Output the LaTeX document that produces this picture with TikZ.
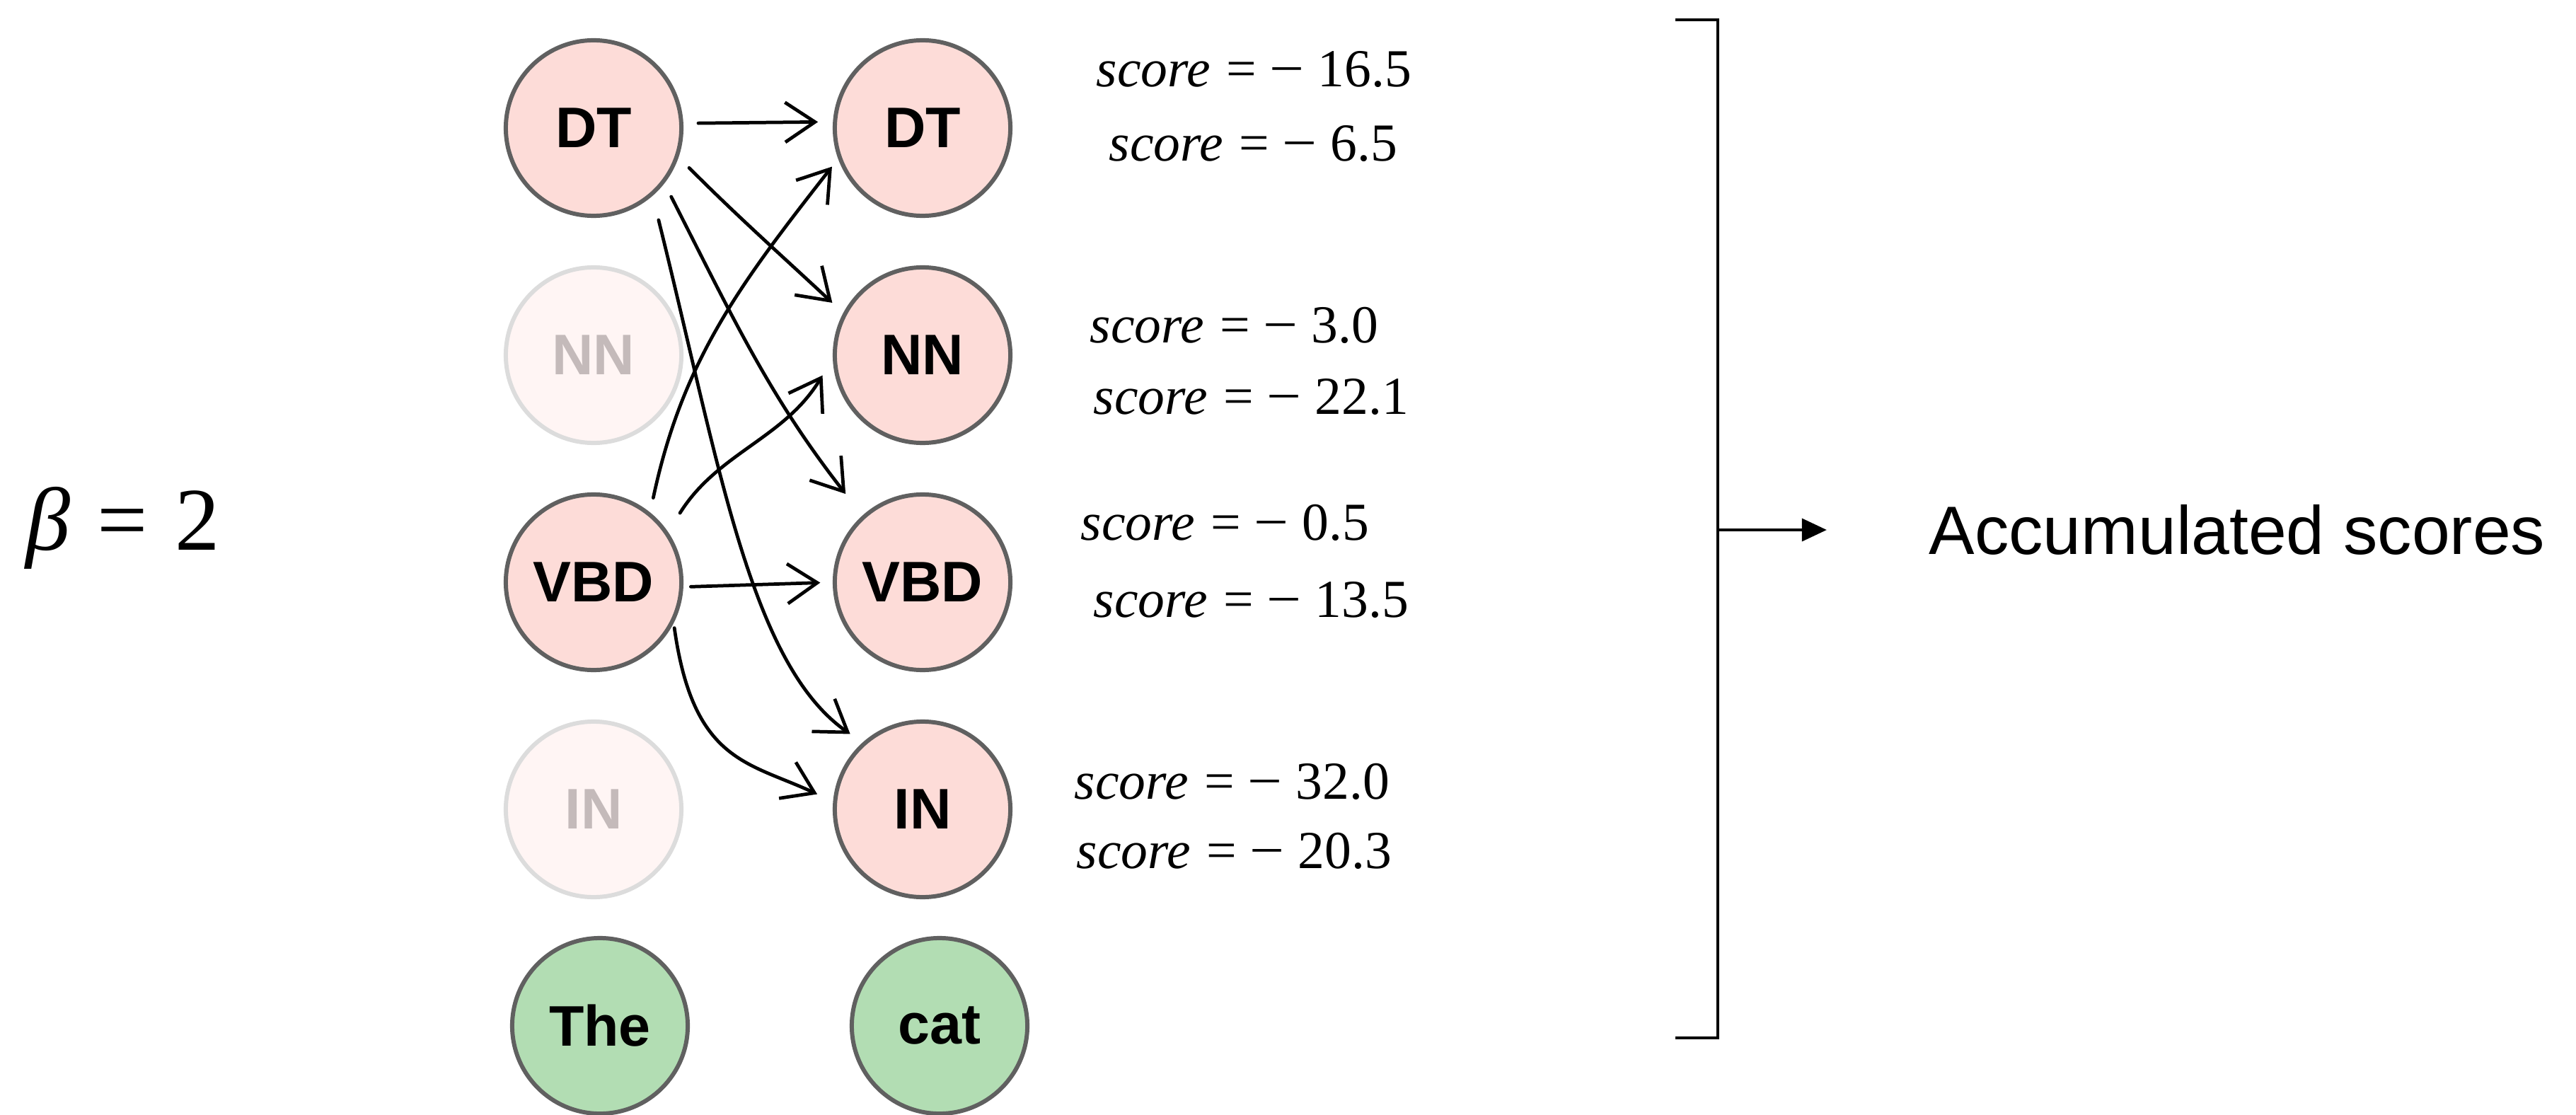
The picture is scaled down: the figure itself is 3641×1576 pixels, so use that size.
\documentclass[tikz,border=0pt]{standalone}
\usepackage{fontspec}
\setmainfont{Liberation Serif}
\newfontfamily\hv{Liberation Sans}
\usetikzlibrary{arrows.meta}
\definecolor{tagpink}{HTML}{FDDCD8}
\definecolor{fadepink}{HTML}{FFF5F4}
\definecolor{fadegray}{HTML}{DCDCDC}
\definecolor{fadetext}{HTML}{C4BABA}
\definecolor{edgegray}{HTML}{606060}
\definecolor{wordgreen}{HTML}{B2DDB3}
\newcommand{\scoreline}[1]{{\itshape score}\hspace{0.3em}=\hspace{0.25em}\scalebox{1.15}[1]{\char"2212}\hspace{0.25em}#1}

\begin{document}
\begin{tikzpicture}[x=0.01cm,y=-0.01cm,
tg/.style={circle,draw=edgegray,line width=1.7pt,fill=tagpink,minimum size=2.48cm,inner sep=0pt,font=\hv\bfseries\fontsize{23}{27}\selectfont},
fd/.style={tg,draw=fadegray,fill=fadepink,text=fadetext},
wd/.style={tg,fill=wordgreen},
sc/.style={anchor=base west,inner sep=0pt,font=\fontsize{21.5}{26}\selectfont},
ar/.style={-{Straight Barb[length=12pt,width=16pt]},line width=1.35pt,line cap=round,shorten <=6pt,shorten >=6pt}]
\useasboundingbox (0,0) rectangle (3641,1576);
\node[anchor=base west,inner sep=0pt,font=\fontsize{36}{42}\selectfont] (beta) at (36,777) {{\itshape β}\hspace{0.3em}=\hspace{0.3em}2};
% tags at the first word
\node[tg] (dt1) at (839,181) {DT};
\node[fd] (nn1) at (839,502) {NN};
\node[tg] (vbd1) at (839,823) {VBD};
\node[fd] (in1) at (839,1144) {IN};
\node[wd] (the) at (848,1450) {The};
% tags at the second word
\node[tg] (dt2) at (1304,181) {DT};
\node[tg] (nn2) at (1304,502) {NN};
\node[tg] (vbd2) at (1304,823) {VBD};
\node[tg] (in2) at (1304,1144) {IN};
\node[wd] (cat) at (1328,1450) {cat};
% transitions
\draw[ar] (dt1.3)--(dt2.176);
\draw[ar] (dt1.-19) to[out=-45,in=137] (nn2.152);
\draw[ar,shorten >=11pt] (dt1.-38) to[out=-63,in=128] (vbd2.132);
\draw[ar,shorten <=10pt] (dt1.-49) to[out=-76,in=145,out looseness=1.2,in looseness=0.6] (in2.132);
\draw[ar,shorten >=4pt] (vbd1.51) to[out=78,in=-128] (dt2.-160);
\draw[ar,shorten <=9pt,shorten >=8pt] (vbd1.34) to[out=58,in=-121] (nn2.182);
\draw[ar,shorten <=3pt,shorten >=5pt] (vbd1.-3)--(vbd2.180);
\draw[ar,shorten <=2pt,shorten >=7pt] (vbd1.-27) to[out=-82,in=155,out looseness=1.5] (in2.175);
% scores
\node[sc] (s1) at (1549,123) {\scoreline{16.5}};
\node[sc] (s2) at (1567,228) {\scoreline{6.5}};
\node[sc] (s3) at (1540,485) {\scoreline{3.0}};
\node[sc] (s4) at (1545,585) {\scoreline{22.1}};
\node[sc] (s5) at (1527,763) {\scoreline{0.5}};
\node[sc] (s6) at (1545,872) {\scoreline{13.5}};
\node[sc] (s7) at (1518,1129) {\scoreline{32.0}};
\node[sc] (s8) at (1521,1227) {\scoreline{20.3}};
% bracket and result
\draw[line width=1.4pt] (2368,28)--(2428,28)--(2428,1467)--(2368,1467);
\coordinate (brk) at (2428,749);\coordinate (tip) at (2582,749);
\draw[line width=1.4pt,-{Triangle[length=10pt,width=9pt]}] (brk)--(tip);
\node[anchor=base west,inner sep=0pt,font=\hv\fontsize{27.5}{32}\selectfont] (acc) at (2726,783) {Accumulated scores};
\end{tikzpicture}
\end{document}
